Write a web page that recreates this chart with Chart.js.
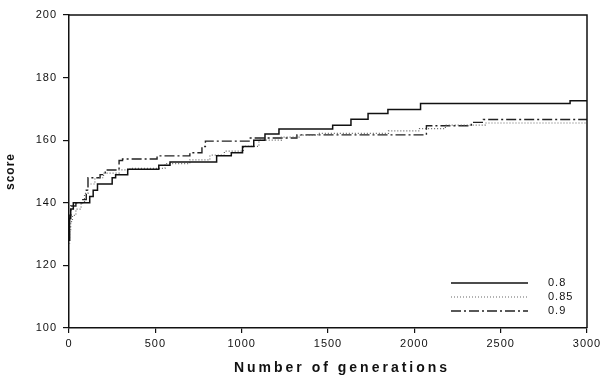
<!DOCTYPE html>
<html>
<head>
<meta charset="utf-8">
<script src="https://cdn.jsdelivr.net/npm/chart.js@4"></script>
<style>
  html, body { margin: 0; padding: 0; background: #fff; }
  #wrap { width: 604px; height: 383px; }
</style>
</head>
<body>
<div id="wrap"><canvas id="myChart" width="604" height="383"></canvas></div>
<script>
// series labels (crossover rate)
const seriesNames = ['0.8', '0.85', '0.9'];

// step data: generation where the score changes, and new best score
const gen08 = [0, 3, 10, 25, 120, 140, 165, 250, 270, 340, 520, 585, 855, 940, 1005, 1070, 1135, 1216, 1527, 1633, 1732, 1847, 2036, 2902, 3000];
const score08 = [128, 135, 138, 140, 142, 144, 146, 148, 149, 150.7, 152, 153, 155, 156, 158, 160, 162, 163.6, 164.8, 166.7, 168.5, 169.8, 171.7, 172.6, 172.6];

const gen085 = [0, 3, 10, 20, 40, 70, 90, 110, 150, 200, 290, 353, 556, 700, 816, 900, 1010, 1100, 1230, 1340, 1440, 1850, 2030, 2180, 2410, 3000];
const score085 = [127, 131, 134, 136, 138, 140, 143, 146, 148, 149.5, 150.5, 151, 152.5, 153.7, 155.2, 156.5, 158, 160, 161, 161.6, 162.2, 163, 163.7, 164.8, 165.5, 165.5];

const gen09 = [0, 3, 10, 40, 80, 100, 110, 180, 210, 290, 310, 510, 700, 770, 790, 1050, 1320, 2070, 2330, 2400, 3000];
const score09 = [128, 136, 139, 140, 141, 144, 148, 149, 150.5, 153.5, 154, 155, 156, 158, 159.7, 160.7, 161.7, 164.6, 165.7, 166.6, 166.6];

const xTicks = [0, 500, 1000, 1500, 2000, 2500, 3000];
const yTicks = [100, 120, 140, 160, 180, 200];

const seriesStyles = [
    { color: '#111', width: 1.5, dash: [] },
    { color: '#666', width: 1.2, dash: [1, 2] },
    { color: '#222', width: 1.4, dash: [10, 3, 2, 3] }
];

function toPoints(xs, ys) {
    return xs.map(function (x, i) { return { x: x, y: ys[i] }; });
}

const seriesData = [toPoints(gen08, score08), toPoints(gen085, score085), toPoints(gen09, score09)];

// frame, legend and x title
const decorPlugin = {
    id: 'decor',
    beforeDraw: function (chart) {
        chart.ctx.letterSpacing = '1px';
    },
    afterDraw: function (chart) {
        const ctx = chart.ctx;
        const a = chart.chartArea;
        ctx.save();
        ctx.strokeStyle = '#111';
        ctx.lineWidth = 1.5;
        ctx.beginPath();
        ctx.moveTo(a.left, a.top);
        ctx.lineTo(a.right, a.top);
        ctx.lineTo(a.right, a.bottom);
        ctx.stroke();

        // legend
        ctx.font = '11px "Liberation Sans", Arial, sans-serif';
        ctx.letterSpacing = '1px';
        ctx.fillStyle = '#111';
        ctx.textBaseline = 'middle';
        ctx.textAlign = 'left';
        seriesNames.forEach(function (name, i) {
            const y = 283 + i * 14;
            const s = seriesStyles[i];
            ctx.strokeStyle = s.color;
            ctx.lineWidth = s.width;
            ctx.setLineDash(s.dash);
            ctx.beginPath();
            ctx.moveTo(451, y);
            ctx.lineTo(528, y);
            ctx.stroke();
            ctx.fillText(name, 548, y);
        });
        ctx.setLineDash([]);

        // x axis title
        ctx.font = 'bold 14px "Liberation Sans", Arial, sans-serif';
        ctx.letterSpacing = '3px';
        ctx.textAlign = 'center';
        ctx.fillText('Number of generations', 342, 368);
        ctx.restore();
    }
};

const ctx = document.getElementById('myChart').getContext('2d');
const myChart = new Chart(ctx, {
    type: 'line',
    data: {
        datasets: seriesNames.map(function (name, i) {
            return {
                label: name,
                data: seriesData[i],
                borderColor: seriesStyles[i].color,
                borderWidth: seriesStyles[i].width,
                borderDash: seriesStyles[i].dash,
                stepped: 'before',
                pointRadius: 0,
                fill: false
            };
        })
    },
    options: {
        responsive: false,
        animation: false,
        layout: { padding: { top: 15, right: 17, left: 3, bottom: 0 } },
        plugins: {
            legend: { display: false },
            tooltip: { enabled: false }
        },
        scales: {
            x: {
                type: 'linear',
                min: 0,
                max: 3000,
                afterBuildTicks: function (axis) {
                    axis.ticks = xTicks.map(function (v) { return { value: v }; });
                },
                afterFit: function (axis) { axis.height = 55; },
                grid: { drawOnChartArea: false, drawTicks: true, tickLength: 5, color: '#111', lineWidth: 1.2 },
                border: { color: '#111', width: 1.5 },
                ticks: {
                    color: '#111',
                    padding: 4,
                    maxRotation: 0,
                    callback: function (v) { return String(v); },
                    font: { family: '"Liberation Sans", Arial, sans-serif', size: 11 }
                }
            },
            y: {
                min: 100,
                max: 200,
                afterBuildTicks: function (axis) {
                    axis.ticks = yTicks.map(function (v) { return { value: v }; });
                },
                afterFit: function (axis) { axis.width = 66; },
                grid: { drawOnChartArea: false, drawTicks: true, tickLength: 6, color: '#111', lineWidth: 1.2 },
                border: { color: '#111', width: 1.5 },
                title: {
                    display: true,
                    text: 'score',
                    color: '#111',
                    padding: 0,
                    font: { family: '"Liberation Sans", Arial, sans-serif', size: 12, weight: 'bold' }
                },
                ticks: {
                    color: '#111',
                    padding: 6,
                    callback: function (v) { return String(v); },
                    font: { family: '"Liberation Sans", Arial, sans-serif', size: 11 }
                }
            }
        }
    },
    plugins: [decorPlugin]
});
</script>
</body>
</html>
